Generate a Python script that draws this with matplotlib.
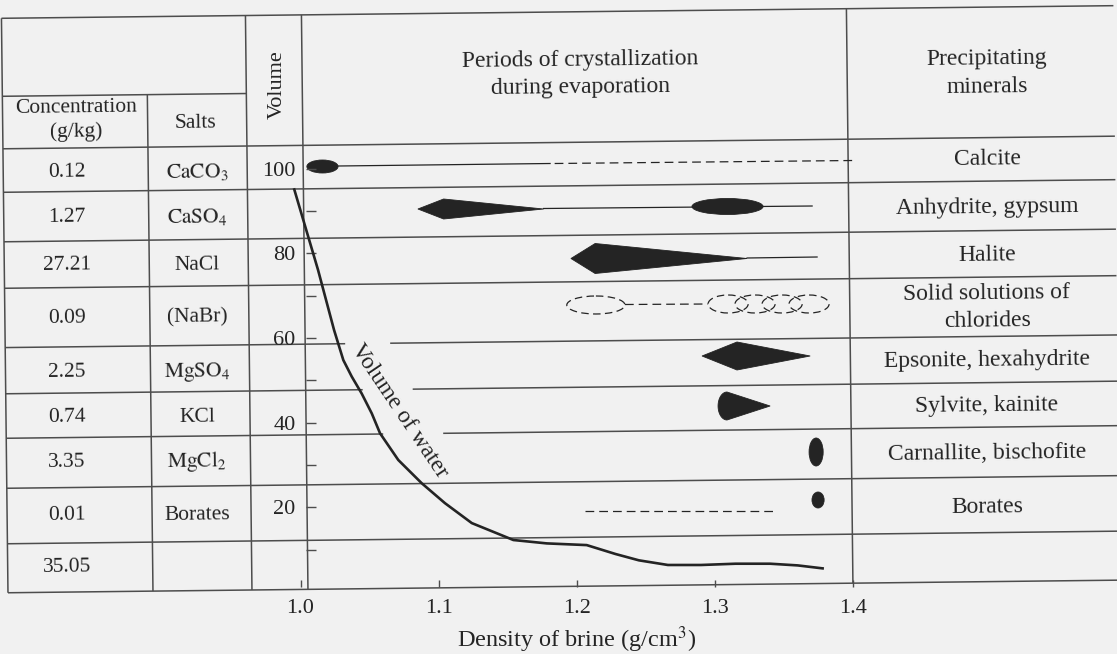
import numpy as np
import matplotlib.pyplot as plt
from matplotlib import transforms
from matplotlib.patches import Ellipse, Polygon

plt.rcParams['font.family'] = ['Liberation Serif', 'DejaVu Serif']
plt.rcParams['mathtext.fontset'] = 'stix'

W, H = 1117, 654
INK = '#242424'
LINE = '#4d4d4d'
PAPER = '#f1f1f1'
SKEW = 0.65  # the page was scanned a little turned

# left table
concentration = ['0.12', '1.27', '27.21', '0.09', '2.25', '0.74', '3.35', '0.01', '35.05']
salts = [r'$\mathrm{CaCO_3}$', r'$\mathrm{CaSO_4}$', 'NaCl', '(NaBr)', r'$\mathrm{MgSO_4}$',
         'KCl', r'$\mathrm{MgCl_2}$', 'Borates', '']
# right column
minerals = ['Calcite', 'Anhydrite, gypsum', 'Halite', 'Solid solutions of\nchlorides',
            'Epsonite, hexahydrite', 'Sylvite, kainite', 'Carnallite, bischofite', 'Borates']

# volume of water against density of brine
density = [0.9955, 1.0127, 1.0243, 1.031, 1.0371, 1.0443, 1.0516, 1.0576, 1.0708, 1.0878,
           1.1046, 1.124, 1.1481, 1.1541, 1.1783, 1.2072, 1.228, 1.245, 1.266, 1.29,
           1.315, 1.34, 1.36, 1.378]
volume = [95.1, 76.1, 61.9, 54.8, 50.9, 46.9, 42.2, 37.5, 31.2, 25.7,
          21.0, 16.3, 13.1, 12.3, 11.5, 11.1, 9.0, 7.5, 6.4, 6.4,
          6.7, 6.7, 6.3, 5.6]

# periods of crystallization (density of brine)
calcite_main = (1.0046, 1.0272)
calcite_solid = (1.0272, 1.1807)
calcite_dashed = (1.184, 1.4)
anhydrite_spindle = (1.085, 1.1036, 1.176)   # tip, widest, tail
anhydrite_main = (1.2834, 1.3349)
anhydrite_end = 1.3704
halite_spindle = (1.1958, 1.2133, 1.3233)
halite_end = 1.374
chlorides_first = (1.1928, 1.2349)
chlorides_chain = [1.3096, 1.3291, 1.3487, 1.3682]
epsomite_spindle = (1.2907, 1.316, 1.369)
sylvite_drop = (1.3023, 1.3088, 1.340)
carnallite = 1.3733
borates_dashed = (1.206, 1.342)
borates = 1.3747

# table layout (pixels)
col_x = [5, 150, 249, 305, 850]
top_y = 12
head_y = 90
row_y = [142.5, 186, 235.5, 282, 341.3, 387.5, 432, 482, 537.5, 586.5]
gaps = {341.3: (345, 390), 387.5: (362, 412), 432: (382, 442)}
left_text_y = [172, 217, 265, 318, 372, 417, 462, 515, 567]
right_text_y = [159, 207, 255, 307.5, 360, 406, 453, 507]

fig = plt.figure(figsize=(W / 100, H / 100), dpi=100, facecolor=PAPER)
over = fig.add_axes([0, 0, 1, 1])
over.set_xlim(0, W)
over.set_ylim(H, 0)
over.axis('off')
skew = transforms.Affine2D().rotate_deg_around(558, 327, -SKEW) + over.transData


def rule(xs, ys):
    over.plot(xs, ys, color=LINE, lw=1.1, transform=skew, solid_capstyle='butt')


rule([col_x[0], W], [top_y, top_y])
rule([col_x[0], col_x[2]], [head_y, head_y])
for y in row_y:
    if y in gaps:
        a, b = gaps[y]
        rule([col_x[0], a], [y, y])
        rule([b, W], [y, y])
    else:
        rule([col_x[0], W], [y, y])
for i, x in enumerate(col_x):
    rule([x, x], [head_y if i == 1 else top_y, row_y[-1]])


def label(x, y, s, size, **kw):
    over.text(x, y, s, fontsize=size, color=INK, ha='center', va='center',
              rotation=kw.pop('rotation', SKEW), rotation_mode='anchor', **kw)


label(76, 120, 'Concentration\n(g/kg)', 15.5, linespacing=1.37)
label(195, 123, 'Salts', 15.5)
for y, c, s in zip(left_text_y, concentration, salts):
    label(67, y, c, 15.5)
    label(197, y, s, 15.5)
label(277, 85, 'Volume', 16, rotation=90)
label(580, 74, 'Periods of crystallization\nduring evaporation', 17, linespacing=1.4)
label(987, 73, 'Precipitating\nminerals', 17, linespacing=1.5)
for y, m in zip(right_text_y, minerals):
    label(987, y, m, 17, linespacing=1.38)
label(399, 411, 'Volume of water', 17, rotation=-56)

# the plot itself
ax = fig.add_axes([300.5 / W, 1 - 587 / H, 552.5 / W, (587 - 142.5) / H])
ax.set_xlim(1.0, 1.4)
ax.set_ylim(1.2, 106.2)
ax.patch.set_alpha(0)
for s in ax.spines.values():
    s.set_visible(False)
ax.spines['left'].set_position(('data', 1.004))

ax.plot(density, volume, color=INK, lw=1.9, clip_on=False, solid_joinstyle='round')

ax.set_xticks([1.0, 1.1, 1.2, 1.3, 1.4])
ax.set_xticklabels(['1.0', '1.1', '1.2', '1.3', '1.4'])
yt = list(range(10, 101, 10))
ax.set_yticks(yt)
ax.set_yticklabels([str(v) if v % 20 == 0 else '' for v in yt])
ax.tick_params(axis='both', direction='in', width=1.0, color=LINE,
               labelsize=16, labelcolor=INK)
ax.tick_params(axis='y', length=7, pad=7.5)
ax.tick_params(axis='x', length=5, pad=8.5)
ax.set_xlabel('Density of brine (g/cm$^3$)', fontsize=17.5, color=INK, labelpad=5)

# glyphs: x in density, y in page pixels
glyph = transforms.blended_transform_factory(ax.transData, over.transData)


def line(x0, x1, y0, y1, **kw):
    ax.plot([x0, x1], [y0, y1], color=INK, lw=kw.pop('lw', 0.9), transform=glyph,
            clip_on=False, **kw)


def blob(x0, x1, yc, h, fill=True, **kw):
    ax.add_patch(Ellipse(((x0 + x1) / 2, yc), x1 - x0, h, transform=glyph, clip_on=False,
                         fc=INK if fill else 'none', ec=INK, lw=kw.pop('lw', 0.6), **kw))


def spindle(xs, yc, h):
    tip, wide, tail = xs
    ax.add_patch(Polygon([(tip, yc), (wide, yc - h), (tail, yc), (wide, yc + h)],
                         closed=True, fc=INK, ec=INK, lw=0.6, transform=glyph,
                         clip_on=False))


dash = (0, (7, 4))

# Calcite
blob(*calcite_main, 166.5, 13)
line(*calcite_solid, 166, 163.5)
line(*calcite_dashed, 163.5, 160.5, ls=dash)
# Anhydrite, gypsum
spindle(anhydrite_spindle, 209, 10)
line(anhydrite_spindle[2], anhydrite_end, 208.5, 206)
blob(*anhydrite_main, 206.5, 16)
# Halite
spindle(halite_spindle, 258.5, 15)
line(halite_spindle[2], halite_end, 258, 257)
# Solid solutions of chlorides
blob(*chlorides_first, 305, 18, fill=False, lw=0.9, ls=(0, (6, 3.5)))
line(chlorides_first[1], chlorides_chain[0] - 0.0145, 304.5, 304, ls=dash)
for c in chlorides_chain:
    blob(c - 0.0145, c + 0.0145, 304, 18, fill=False, lw=0.9, ls=(0, (6, 3.5)))
# Epsonite, hexahydrite
spindle(epsomite_spindle, 356, 14)
# Sylvite, kainite
left, wide, tip = sylvite_drop
t = np.linspace(np.pi / 2, 3 * np.pi / 2, 40)
drop = [(wide + (wide - left) * np.cos(a), 406 - 14 * np.sin(a)) for a in t] + [(tip, 406)]
ax.add_patch(Polygon(drop, closed=True, fc=INK, ec=INK, lw=0.6, transform=glyph,
                     clip_on=False))
# Carnallite, bischofite
blob(carnallite - 0.0051, carnallite + 0.0051, 452, 28)
# Borates
line(*borates_dashed, 511, 511, ls=dash)
blob(borates - 0.0044, borates + 0.0044, 500, 16)

fig.savefig('out.png', dpi=100, facecolor=PAPER)
